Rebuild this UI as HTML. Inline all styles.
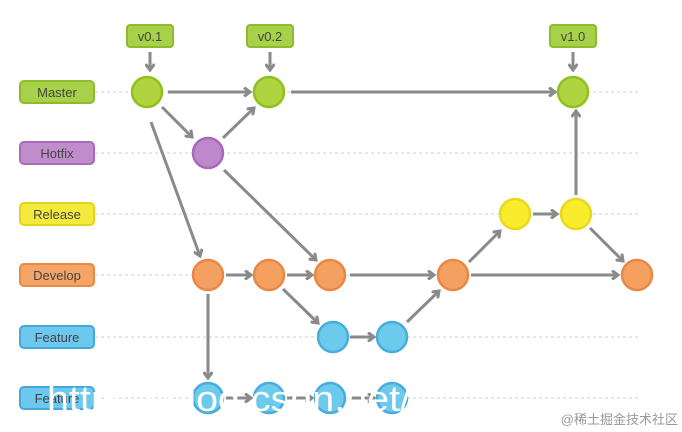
<!DOCTYPE html><html><head><style>body{margin:0;background:#fff}svg{display:block}</style></head><body>
<svg width="682" height="432" viewBox="0 0 682 432" font-family="Liberation Sans, sans-serif">
<defs><marker id="a" markerWidth="10" markerHeight="10" refX="7" refY="5" orient="auto" markerUnits="userSpaceOnUse"><path d="M1,0.5 L7,5 L1,9.5" fill="none" stroke="#8a8a8a" stroke-width="3"/></marker></defs>
<g stroke="#ccc" stroke-dasharray="3,3" stroke-width="1">
<line x1="95" y1="92" x2="640" y2="92"/><line x1="95" y1="153" x2="640" y2="153"/><line x1="95" y1="214" x2="640" y2="214"/><line x1="95" y1="275" x2="640" y2="275"/><line x1="95" y1="337" x2="640" y2="337"/><line x1="95" y1="398" x2="640" y2="398"/></g>
<g font-size="13" text-anchor="middle" fill="#444">
<rect x="20" y="81" width="74" height="22" rx="4" fill="#a8d14a" stroke="#8cbc2c" stroke-width="2"/><text x="57" y="97">Master</text>
<rect x="20" y="142" width="74" height="22" rx="4" fill="#c08ccc" stroke="#a86cb8" stroke-width="2"/><text x="57" y="158">Hotfix</text>
<rect x="20" y="203" width="74" height="22" rx="4" fill="#f4ea3c" stroke="#e0d420" stroke-width="2"/><text x="57" y="219">Release</text>
<rect x="20" y="264" width="74" height="22" rx="4" fill="#f4a466" stroke="#e88a44" stroke-width="2"/><text x="57" y="280">Develop</text>
<rect x="20" y="326" width="74" height="22" rx="4" fill="#6cc8ec" stroke="#44a8dc" stroke-width="2"/><text x="57" y="342">Feature</text>
<rect x="20" y="387" width="74" height="22" rx="4" fill="#6cc8ec" stroke="#44a8dc" stroke-width="2"/><text x="57" y="403">Feature</text>
<rect x="127" y="25" width="46" height="22" rx="3" fill="#a8d14a" stroke="#8cbc2c" stroke-width="2"/><text x="150" y="41">v0.1</text>
<rect x="247" y="25" width="46" height="22" rx="3" fill="#a8d14a" stroke="#8cbc2c" stroke-width="2"/><text x="270" y="41">v0.2</text>
<rect x="550" y="25" width="46" height="22" rx="3" fill="#a8d14a" stroke="#8cbc2c" stroke-width="2"/><text x="573" y="41">v1.0</text></g>
<g stroke="#8a8a8a" stroke-width="3" fill="none" marker-end="url(#a)">
<line x1="150" y1="52" x2="150" y2="70"/><line x1="270" y1="52" x2="270" y2="70"/><line x1="573" y1="52" x2="573" y2="70"/>
<line x1="168" y1="92" x2="250" y2="92"/><line x1="162" y1="107" x2="192" y2="137"/><line x1="223" y1="138" x2="254" y2="108"/>
<line x1="291" y1="92" x2="555" y2="92"/><line x1="151" y1="122" x2="200" y2="256"/><line x1="224" y1="170" x2="316" y2="260"/>
<line x1="226" y1="275" x2="251" y2="275"/><line x1="287" y1="275" x2="312" y2="275"/><line x1="283" y1="289" x2="318" y2="323"/>
<line x1="350" y1="337" x2="374" y2="337"/><line x1="407" y1="322" x2="439" y2="291"/><line x1="350" y1="275" x2="434" y2="275"/>
<line x1="469" y1="262" x2="500" y2="231"/><line x1="533" y1="214" x2="557" y2="214"/><line x1="576" y1="195" x2="576" y2="111"/>
<line x1="590" y1="228" x2="623" y2="261"/><line x1="471" y1="275" x2="618" y2="275"/><line x1="208" y1="294" x2="208" y2="378"/>
<line x1="226" y1="398" x2="251" y2="398"/><line x1="287" y1="398" x2="312" y2="398"/><line x1="348" y1="398" x2="374" y2="398"/></g>
<g stroke-width="2.5">
<g fill="#b0d440" stroke="#90c020"><circle cx="147" cy="92" r="15"/><circle cx="269" cy="92" r="15"/><circle cx="573" cy="92" r="15"/></g>
<circle cx="208" cy="153" r="15" fill="#c088cc" stroke="#a868b8"/>
<g fill="#f8ec2c" stroke="#e8d820"><circle cx="515" cy="214" r="15"/><circle cx="576" cy="214" r="15"/></g>
<g fill="#f4a060" stroke="#e88844"><circle cx="208" cy="275" r="15"/><circle cx="269" cy="275" r="15"/><circle cx="330" cy="275" r="15"/><circle cx="453" cy="275" r="15"/><circle cx="637" cy="275" r="15"/></g>
<g fill="#6ccaec" stroke="#48acdc"><circle cx="333" cy="337" r="15"/><circle cx="392" cy="337" r="15"/><circle cx="208" cy="398" r="15"/><circle cx="269" cy="398" r="15"/><circle cx="330" cy="398" r="15"/><circle cx="392" cy="398" r="15"/></g></g>
<text x="47" y="411" font-size="36" fill="#fff" textLength="364" lengthAdjust="spacingAndGlyphs">https://blog.csdn.net/</text>
<text x="678" y="424" font-size="13" fill="#999" text-anchor="end" font-family="Liberation Sans, Noto Sans CJK SC, sans-serif">@稀土掘金技术社区</text>
</svg></body></html>
